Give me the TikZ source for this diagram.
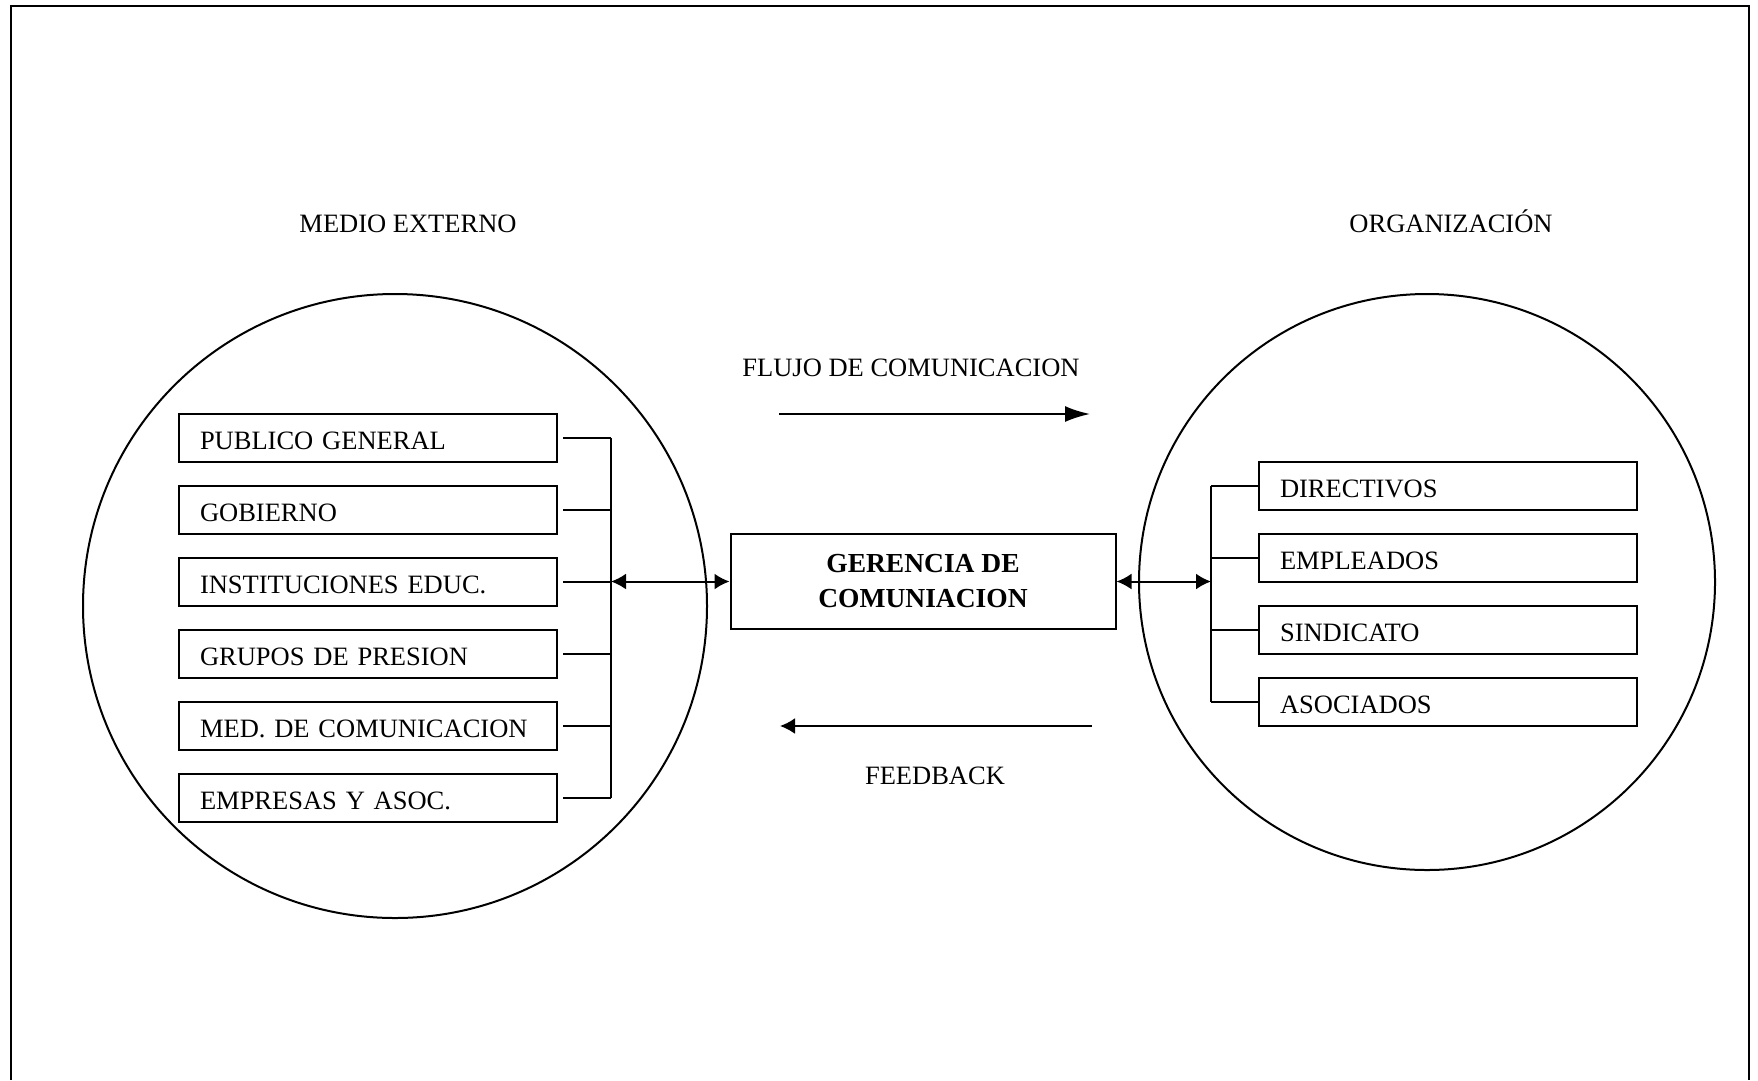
\documentclass[tikz,border=0pt]{standalone}
\usepackage{fontspec}
\setmainfont{Liberation Serif}
\usetikzlibrary{arrows.meta}

\tikzset{
    item/.style={draw, line width=2pt, text width=336pt, inner xsep=21pt, inner ysep=0pt,
        minimum height=48pt, text height=22pt, text depth=0pt, align=left,
        font=\fontsize{26.5}{30}\selectfont},
    label/.style={inner sep=0pt, text height=18pt, text depth=0pt,
        font=\fontsize{26.5}{30}\selectfont},
    wire/.style={line width=2pt},
    twoway/.style={line width=2pt, {Latex[length=15pt,width=16pt]}-{Latex[length=15pt,width=16pt]}}
}

\begin{document}
\begin{tikzpicture}[x=1pt, y=-1pt]

    \useasboundingbox (0,0) rectangle (1758,1080);
    \draw[line width=2.5pt] (11,1080) -- (11,6) -- (1749,6) -- (1749,1080);

    % circles
    \draw[wire] (395,606) circle[radius=312pt];
    \draw[wire] (1427,582) circle[radius=288pt];

    \node[label] (ext) at (408,223) {MEDIO EXTERNO};
    \node[label] (org) at (1451,223) {ORGANIZACIÓN};
    \node[label] (flujo) at (911,367) {FLUJO DE COMUNICACION};
    \node[label] (feed) at (935,775) {FEEDBACK};

    % medio externo
    \node[item] (p1) at (368,438) {PUBLICO GENERAL};
    \node[item] (p2) at (368,510) {GOBIERNO};
    \node[item] (p3) at (368,582) {INSTITUCIONES EDUC.};
    \node[item] (p4) at (368,654) {GRUPOS DE PRESION};
    \node[item] (p5) at (368,726) {MED. DE COMUNICACION};
    \node[item] (p6) at (368,798) {EMPRESAS Y ASOC.};

    % organizacion
    \node[item] (d1) at (1448,486) {DIRECTIVOS};
    \node[item] (d2) at (1448,558) {EMPLEADOS};
    \node[item] (d3) at (1448,630) {SINDICATO};
    \node[item] (d4) at (1448,702) {ASOCIADOS};

    \node[draw, line width=2pt, minimum width=385pt, minimum height=95pt, align=center,
        font=\fontsize{27.5}{35}\selectfont\bfseries] (ger) at (923,581.5) {GERENCIA DE\\COMUNIACION};

    \coordinate (lbar) at (611,0);
    \coordinate (rbar) at (1211,0);

    \foreach \i in {1,...,6}
        \draw[wire] ([xshift=5pt]p\i.east) -- (p\i.east -| lbar);
    \draw[wire] (p1.east -| lbar) -- (p6.east -| lbar);
    \draw[twoway] (ger.west -| lbar) -- (ger.west);

    \foreach \i in {1,...,4}
        \draw[wire] (d\i.west -| rbar) -- (d\i.west);
    \draw[wire] (d1.west -| rbar) -- (d4.west -| rbar);
    \draw[twoway] (ger.east) -- (ger.east -| rbar);

    % flujo y feedback
    \coordinate (f1) at (779,414);
    \coordinate (f2) at (1090,414);
    \coordinate (b1) at (1092,726);
    \coordinate (b2) at (780,726);
    \draw[line width=2pt, -{Latex[length=25pt,width=16pt]}] (f1) -- (f2);
    \draw[line width=2pt, -{Latex[length=15pt,width=16pt]}] (b1) -- (b2);

\end{tikzpicture}
\end{document}
